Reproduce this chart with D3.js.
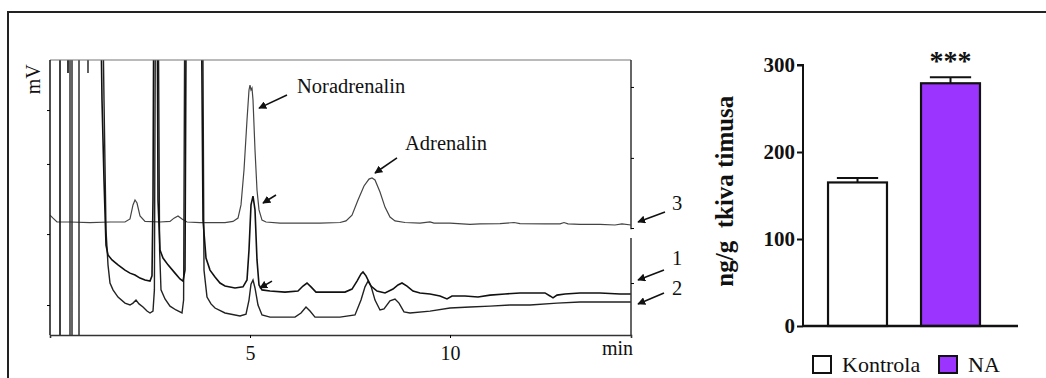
<!DOCTYPE html>
<html>
<head>
<meta charset="utf-8">
<script src="https://cdn.jsdelivr.net/npm/d3@7/dist/d3.min.js"></script>
<style>
  html, body { margin: 0; padding: 0; background: #fff; }
  svg { display: block; }
  text { font-family: "Liberation Serif", "Times New Roman", serif; fill: #111; }
</style>
</head>
<body>
<svg id="chart" width="1046" height="378"></svg>
<script>
// ---------------- DATA ----------------
// Chromatogram: time (min) vs detector signal (relative mV)
const timeTicks = [5, 10];
const leftSignalTicks = [81.8, 62.2, 36.7, 10.9];
const rightSignalTicks = [90.2, 64.4, 38.9, 18.9];

// trace 3: standard (noradrenalin + adrenalin)
const trace3 = [
  [0,43.6],[0.075,42.5],[0.175,41.1],[0.5,41.1],[1.0,40.9],[1.5,41.1],[1.875,41.1],[2.0,42.2],[2.075,47.3],
  [2.125,49.1],[2.175,48.0],[2.25,43.3],[2.375,41.3],[2.75,41.1],[3.0,41.3],[3.1,42.5],[3.2,43.3],[3.3,42.2],
  [3.425,41.1],[3.75,40.9],[4.375,40.9],[4.575,41.3],[4.7,42.5],[4.775,47.3],[4.85,60.0],[4.925,78.2],[4.975,89.1],
  [5.0,90.9],[5.025,89.1],[5.05,89.8],[5.075,85.5],[5.125,67.3],[5.175,52.7],[5.225,45.5],[5.3,41.8],[5.4,41.1],
  [5.75,40.7],[6.25,40.7],[6.75,40.7],[7.25,40.9],[7.4,41.5],[7.55,43.6],[7.7,49.1],[7.85,54.2],[7.975,56.7],
  [8.05,57.1],[8.125,56.4],[8.25,52.0],[8.375,46.5],[8.5,42.9],[8.625,41.5],[8.875,40.9],[9.25,40.7],[9.5,41.1],
  [9.6,40.7],[10.0,40.7],[10.5,40.2],[10.75,40.4],[11.25,40.5],[11.6,40.9],[11.75,40.5],[12.375,40.4],[12.75,40.4],
  [12.85,40.9],[12.95,40.4],[13.25,40.2],[13.75,40.2],[14.125,40.0],[14.3,40.4],[14.525,40.0]
];
// trace 1: sample
const trace1 = [
  [0.25,-25],[0.25,140],[0.44,140],[0.45,95.3],[0.46,140],[1.25,140],[1.3,85.5],[1.35,56.4],[1.4,32.7],
  [1.45,29.1],[1.55,27.3],[1.7,25.5],[1.875,23.6],[2.0,22.5],[2.125,21.8],[2.25,20.7],[2.375,20.0],[2.5,19.6],
  [2.55,21.5],[2.575,49.1],[2.6,140],[2.675,140],[2.7,49.1],[2.75,30.9],[2.825,28.0],[2.95,25.5],[3.125,22.5],
  [3.25,20.4],[3.325,19.6],[3.375,23.6],[3.41,140],[3.775,140],[3.825,41.8],[3.9,28.0],[4.0,23.6],[4.125,21.1],
  [4.25,18.9],[4.375,17.8],[4.625,17.1],[4.825,17.5],[4.925,20.0],[4.975,30.9],[5.025,47.3],[5.075,50.5],
  [5.125,45.5],[5.175,27.3],[5.225,18.2],[5.3,16.4],[5.5,16.0],[5.875,15.6],[6.2,16.0],[6.325,17.8],[6.425,18.9],
  [6.525,17.5],[6.65,15.6],[7.0,15.6],[7.375,15.6],[7.55,16.7],[7.675,19.6],[7.775,22.2],[7.825,22.9],[7.9,21.5],
  [8.025,17.8],[8.175,16.0],[8.375,15.3],[8.575,16.7],[8.7,18.2],[8.8,18.9],[8.925,17.8],[9.075,16.0],[9.25,15.3],
  [9.5,14.9],[9.75,14.2],[9.925,13.1],[10.05,14.2],[10.375,14.2],[10.7,13.8],[11.0,14.5],[11.375,14.9],[11.75,15.3],
  [12.375,15.3],[12.5,14.2],[12.575,13.5],[12.675,14.5],[12.875,14.9],[13.25,15.3],[13.75,15.3],[14.25,14.9],[14.525,14.9]
];
// trace 2: sample
const trace2 = [
  [0.5,-25],[0.5,140],[0.55,140],[0.55,-25],[0.725,-25],[0.725,140],[0.94,140],[0.95,95.3],[0.96,140],[1.3,140],
  [1.35,85.5],[1.4,38.2],[1.45,25.5],[1.5,18.9],[1.575,16.4],[1.7,13.8],[1.875,11.6],[2.0,10.9],[2.075,11.6],
  [2.15,12.7],[2.225,11.3],[2.325,10.2],[2.425,8.7],[2.5,8.0],[2.575,8.7],[2.61,16.4],[2.64,140],[2.7,140],
  [2.74,30.9],[2.775,16.4],[2.875,13.1],[3.0,10.5],[3.15,9.1],[3.3,8.0],[3.34,12.7],[3.375,140],[3.81,140],
  [3.85,23.6],[3.925,13.8],[4.025,11.3],[4.125,9.8],[4.375,8.0],[4.75,6.9],[4.9,7.6],[4.975,12.7],[5.025,18.5],
  [5.075,20.0],[5.125,17.1],[5.2,10.9],[5.3,7.3],[5.5,6.5],[6.125,6.5],[6.275,8.0],[6.4,10.2],[6.5,8.7],[6.625,6.5],
  [7.25,6.5],[7.625,7.3],[7.775,12.7],[7.875,17.5],[7.95,19.6],[8.025,17.8],[8.125,12.7],[8.25,9.1],[8.35,9.5],
  [8.5,12.4],[8.625,13.1],[8.725,11.6],[8.85,8.4],[9.0,8.0],[9.5,8.7],[10.0,9.8],[10.5,10.2],[11.0,10.5],
  [11.5,10.9],[12.0,10.9],[12.675,11.6],[13.25,12.0],[13.75,12.0],[14.525,12.0]
];

// Bar chart
const groups = ["Kontrola", "NA"];
const means = [165, 279];
const sems = [5, 7];
const barColors = ["#ffffff", "#9b34ff"];
const barTicks = [0, 100, 200, 300];
const significance = "***";

// ---------------- DRAW ----------------
const svg = d3.select("#chart");

// outer frame (top and left rule)
svg.append("path").attr("d", "M8,378V12H1046").attr("fill", "none")
  .attr("stroke", "#222").attr("stroke-width", 2);

// ---- Chromatogram ----
const cx = d3.scaleLinear().domain([0, 14.525]).range([50, 631]);
const cy = d3.scaleLinear().domain([0, 100]).range([335, 60]);

const clipId = "plotclip";
svg.append("defs").append("clipPath").attr("id", clipId)
  .append("rect").attr("x", cx(0)).attr("y", cy(100)).attr("width", cx(14.525) - cx(0)).attr("height", cy(0) - cy(100));

const marker = svg.select("defs").append("marker").attr("id", "arr")
  .attr("viewBox", "0 0 10 10").attr("refX", 9).attr("refY", 5)
  .attr("markerWidth", 5).attr("markerHeight", 5).attr("markerUnits", "strokeWidth")
  .attr("orient", "auto");
marker.append("path").attr("d", "M0,0L10,5L0,10z").attr("fill", "#111");

const line = d3.line().x(d => cx(d[0])).y(d => cy(d[1]));
const traces = svg.append("g").attr("clip-path", `url(#${clipId})`);
traces.append("path").datum(trace3).attr("d", line).attr("fill", "none")
  .attr("stroke", "#444").attr("stroke-width", 1.2);
traces.append("path").datum(trace2).attr("d", line).attr("fill", "none")
  .attr("stroke", "#222").attr("stroke-width", 1.4);
traces.append("path").datum(trace1).attr("d", line).attr("fill", "none")
  .attr("stroke", "#111").attr("stroke-width", 1.6);

// frame
svg.append("line").attr("x1", cx(0)).attr("x2", cx(14.525)).attr("y1", cy(100)).attr("y2", cy(100))
  .attr("stroke", "#777").attr("stroke-width", 1.2);
svg.append("line").attr("x1", cx(0)).attr("x2", cx(0)).attr("y1", cy(100)).attr("y2", cy(0))
  .attr("stroke", "#222").attr("stroke-width", 1.6);
svg.append("line").attr("x1", cx(14.525)).attr("x2", cx(14.525)).attr("y1", cy(100)).attr("y2", cy(38.5))
  .attr("stroke", "#333").attr("stroke-width", 1.5);
svg.append("line").attr("x1", cx(14.525)).attr("x2", cx(14.525)).attr("y1", cy(35.3)).attr("y2", cy(0))
  .attr("stroke", "#333").attr("stroke-width", 1.5);

const xAxis = svg.append("g").attr("transform", `translate(0,${cy(0)})`)
  .call(d3.axisBottom(cx).tickValues(timeTicks).tickSize(3).tickPadding(8).tickFormat(d3.format("d")));
xAxis.select(".domain").attr("stroke", "#333").attr("stroke-width", 1.6);
xAxis.selectAll("text").attr("font-size", 20).attr("font-family", "Liberation Serif").attr("fill", "#111");

const lAxis = svg.append("g").attr("transform", `translate(${cx(0)},0)`)
  .call(d3.axisLeft(cy).tickValues(leftSignalTicks).tickSize(3).tickFormat(""));
lAxis.select(".domain").remove();
const rAxis = svg.append("g").attr("transform", `translate(${cx(14.525)},0)`)
  .call(d3.axisRight(cy).tickValues(rightSignalTicks).tickSize(3).tickFormat(""));
rAxis.select(".domain").remove();

svg.append("text").attr("x", cx(14.525) + 2).attr("y", 355).attr("text-anchor", "end")
  .attr("font-size", 20).text("min");
svg.append("text").attr("transform", `translate(${cx(0) - 10},${cy(93)}) rotate(-90)`)
  .attr("text-anchor", "middle").attr("font-size", 20).text("mV");

// annotations (data coordinates: time, signal)
const annoText = [
  {t: 6.175, v: 88.0, s: "Noradrenalin"},
  {t: 8.875, v: 67.3, s: "Adrenalin"},
  {t: 15.55, v: 45.5, s: "3"},
  {t: 15.55, v: 25.5, s: "1"},
  {t: 15.55, v: 14.5, s: "2"}
];
const annoArrows = [
  [[5.925, 87.3], [5.225, 82.5]],
  [[5.65, 50.9], [5.325, 48.0]],
  [[5.55, 19.6], [5.25, 17.1]],
  [[8.675, 64.4], [8.125, 58.9]],
  [[15.375, 44.7], [14.7, 41.1]],
  [[15.35, 23.6], [14.7, 20.0]],
  [[15.35, 15.3], [14.7, 11.3]]
];
svg.append("g").selectAll("text").data(annoText).join("text")
  .attr("x", d => cx(d.t)).attr("y", d => cy(d.v)).attr("font-size", 20.5).text(d => d.s);
svg.append("g").selectAll("line").data(annoArrows).join("line")
  .attr("x1", d => cx(d[0][0])).attr("y1", d => cy(d[0][1]))
  .attr("x2", d => cx(d[1][0])).attr("y2", d => cy(d[1][1]))
  .attr("stroke", "#111").attr("stroke-width", 1.6).attr("marker-end", "url(#arr)");

// ---- Bar chart ----
const by = d3.scaleLinear().domain([0, 300]).range([326, 65]);
const bx = d3.scaleBand().domain(groups).range([803, 1018])
  .paddingInner(0.366).paddingOuter(0.339).align(0.397);

const bars = svg.append("g");
bars.selectAll("line.err").data(groups).join("line").attr("class", "err")
  .attr("x1", d => bx(d) + bx.bandwidth() / 2).attr("x2", d => bx(d) + bx.bandwidth() / 2)
  .attr("y1", (d, i) => by(means[i])).attr("y2", (d, i) => by(means[i] + sems[i]))
  .attr("stroke", "#111").attr("stroke-width", 2);
bars.selectAll("line.cap").data(groups).join("line").attr("class", "cap")
  .attr("x1", d => bx(d) + bx.bandwidth() * 0.15).attr("x2", d => bx(d) + bx.bandwidth() * 0.85)
  .attr("y1", (d, i) => by(means[i] + sems[i])).attr("y2", (d, i) => by(means[i] + sems[i]))
  .attr("stroke", "#111").attr("stroke-width", 2);
bars.selectAll("rect").data(groups).join("rect")
  .attr("x", d => bx(d)).attr("width", bx.bandwidth())
  .attr("y", (d, i) => by(means[i])).attr("height", (d, i) => by(0) - by(means[i]))
  .attr("fill", (d, i) => barColors[i]).attr("stroke", "#111").attr("stroke-width", 2.2);

const yAxisB = svg.append("g").attr("transform", "translate(803,0)")
  .call(d3.axisLeft(by).tickValues(barTicks).tickSize(6).tickPadding(2));
yAxisB.select(".domain").attr("stroke", "#111").attr("stroke-width", 2).attr("d", `M-6,${by(300)}H0V${by(0)}`);
yAxisB.selectAll(".tick line").attr("stroke", "#111").attr("stroke-width", 2);
yAxisB.selectAll("text").attr("font-size", 21).attr("font-weight", "bold")
  .attr("font-family", "Liberation Serif").attr("fill", "#111");
svg.append("line").attr("x1", 803).attr("x2", 1018).attr("y1", by(0)).attr("y2", by(0))
  .attr("stroke", "#111").attr("stroke-width", 2.5);

svg.append("text").attr("x", bx("NA") + bx.bandwidth() / 2).attr("y", 70)
  .attr("text-anchor", "middle").attr("font-size", 28).attr("font-weight", "bold")
  .attr("font-family", "Liberation Sans").text(significance);

svg.append("text").attr("transform", `translate(733,${by(155)}) rotate(-90)`)
  .attr("text-anchor", "middle").attr("font-size", 25).attr("font-weight", "bold")
  .style("white-space", "pre").text("ng/g  tkiva timusa");

// legend
const leg = svg.append("g");
const legX = [813, 939];
leg.selectAll("rect").data(groups).join("rect")
  .attr("x", (d, i) => legX[i]).attr("y", 356).attr("width", 18).attr("height", 17)
  .attr("fill", (d, i) => barColors[i]).attr("stroke", "#111").attr("stroke-width", 2);
leg.selectAll("text").data(groups).join("text")
  .attr("x", (d, i) => legX[i] + 29).attr("y", 372).attr("font-size", 22).text(d => d);
</script>
</body>
</html>
